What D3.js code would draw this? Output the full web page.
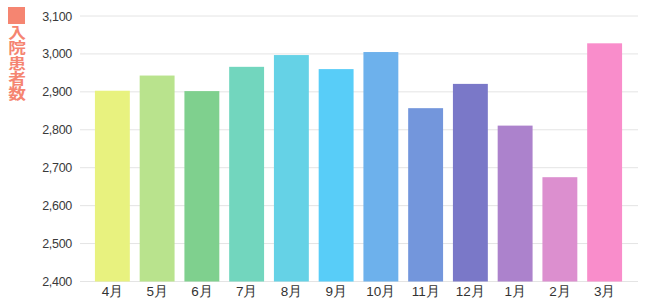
<!DOCTYPE html>
<html>
<head>
<meta charset="utf-8">
<script src="https://cdn.jsdelivr.net/npm/d3@7"></script>
<style>
  body { margin: 0; background: #fff; }
  svg { display: block; font-family: "Open Sans", "Noto Sans CJK JP", sans-serif; }
</style>
</head>
<body>
<script>
// data
let months = ["4月", "5月", "6月", "7月", "8月", "9月", "10月", "11月", "12月", "1月", "2月", "3月"]
let patients = [2903, 2943, 2902, 2966, 2997, 2960, 3005, 2857, 2921, 2811, 2675, 3028]
let barColors = ["#e8f27f", "#b9e38d", "#7fd08e", "#72d6be", "#65d2e6", "#58cdf8",
                 "#6db1ec", "#7396dc", "#7a78c8", "#ac82cc", "#dc8fcf", "#f98dcb"]
let yTicks = [2400, 2500, 2600, 2700, 2800, 2900, 3000, 3100]
let seriesName = "入院患者数"

let w = 645, h = 303
let svg = d3.select("body").append("svg")
    .attr("width", w)
    .attr("height", h)

let x = d3.scaleBand()
    .domain(months)
    .range([90, 627])
    .paddingInner(0.22)
    .paddingOuter(0.11)

let y = d3.scaleLinear()
    .domain([2400, 3100])
    .range([281.5, 16])

// gridlines
svg.append("g")
    .selectAll("line")
    .data(yTicks)
    .enter()
    .append("line")
    .attr("x1", 80)
    .attr("x2", 638)
    .attr("y1", d => y(d))
    .attr("y2", d => y(d))
    .attr("stroke", "#e4e4e4")
    .attr("stroke-width", 1)

// y axis labels
let yAxis = d3.axisLeft(y)
    .tickValues(yTicks)
    .tickFormat(d3.format(","))
    .tickSize(0)
    .tickPadding(0)
let gy = svg.append("g")
    .attr("transform", "translate(72,0)")
    .call(yAxis)
gy.select(".domain").remove()
gy.selectAll("text")
    .attr("fill", "#3a3a3a")
    .style("font-size", "12.5px")
    .style("letter-spacing", "-0.3px")

// bars
svg.append("g")
    .selectAll("rect")
    .data(patients)
    .enter()
    .append("rect")
    .attr("x", (d, i) => x(months[i]))
    .attr("y", d => y(d))
    .attr("width", x.bandwidth())
    .attr("height", d => y(2400) - y(d))
    .attr("fill", (d, i) => barColors[i])

// x axis labels
let xAxis = d3.axisBottom(x).tickSize(0).tickPadding(0)
let gx = svg.append("g")
    .attr("transform", "translate(0,286)")
    .call(xAxis)
gx.select(".domain").remove()
gx.selectAll("text")
    .attr("fill", "#333")
    .attr("dy", "0.75em")
    .style("font-size", "13.5px")

// legend: square + vertical label
let legend = svg.append("g")
legend.append("rect")
    .attr("x", 8)
    .attr("y", 7)
    .attr("width", 17)
    .attr("height", 17)
    .attr("fill", "#f58571")
legend.append("text")
    .attr("transform", "translate(17,25) scale(1.18,1)")
    .style("writing-mode", "vertical-rl")
    .style("font-family", "'Noto Sans CJK JP', sans-serif")
    .style("font-size", "15px")
    .style("font-weight", "bold")
    .style("letter-spacing", "0.3px")
    .attr("fill", "#f58571")
    .text(seriesName)
</script>
</body>
</html>
